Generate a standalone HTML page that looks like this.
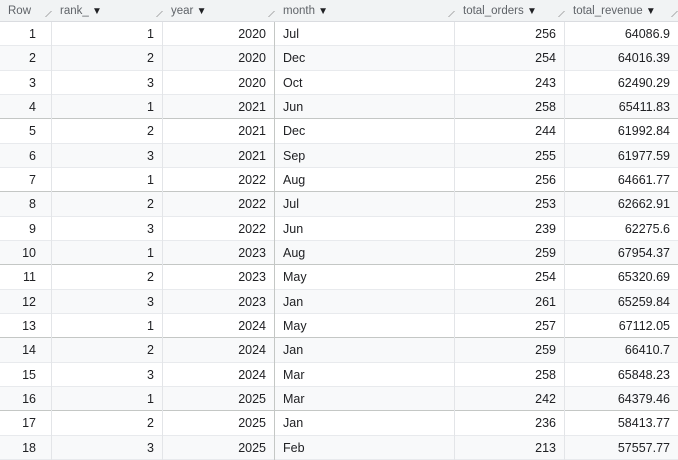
<!DOCTYPE html>
<html><head><meta charset="utf-8"><style>
body{margin:0;width:678px;height:460px;overflow:hidden;background:#fff;font-family:"Liberation Sans",sans-serif;color:#202124}
#grid{position:absolute;left:0;top:0;width:678px;height:460px}
.h{position:absolute;top:0;height:22px;background:#f1f3f4;border-bottom:1px solid #dadce0;font-size:11.5px;color:#5f6368;line-height:22px;box-sizing:border-box}
.h span{position:absolute;left:8px}
.h .rz{position:absolute;right:3px;bottom:4px;width:6px;height:6px;border-right:1px solid #999;transform:skewX(-45deg);}
.c{position:absolute;font-size:12.5px;box-sizing:border-box;padding:0 8px;white-space:nowrap}
.r{text-align:right}
.row{position:absolute;left:0;width:678px;box-sizing:border-box}
</style></head><body>
<div id="grid"></div>
<script>
const rowNums=[1,2,3,4,5,6,7,8,9,10,11,12,13,14,15,16,17,18];
const ranks=[1,2,3,1,2,3,1,2,3,1,2,3,1,2,3,1,2,3];
const years=[2020,2020,2020,2021,2021,2021,2022,2022,2022,2023,2023,2023,2024,2024,2024,2025,2025,2025];
const months=["Jul","Dec","Oct","Jun","Dec","Sep","Aug","Jul","Jun","Aug","May","Jan","May","Jan","Mar","Mar","Jan","Feb"];
const orders=[256,254,243,258,244,255,256,253,239,259,254,261,257,259,258,242,236,213];
const revenue=["64086.9","64016.39","62490.29","65411.83","61992.84","61977.59","64661.77","62662.91","62275.6","67954.37","65320.69","65259.84","67112.05","66410.7","65848.23","64379.46","58413.77","57557.77"];
const headers=["Row","rank_","year","month","total_orders","total_revenue"];
const cols=[0,52,163,275,455,565,678];
const g=document.getElementById('grid');
headers.forEach((t,i)=>{
 const h=document.createElement('div');h.className='h';
 
 
 h.style.left=cols[i]+'px';h.style.width=(cols[i+1]-cols[i])+'px';
 h.innerHTML='<span>'+t+(i>0?' <span style="position:static;font-size:10px;color:#202124">&#9660;</span>':'')+'</span><div class="rz"></div>';
 g.appendChild(h);
});
const top0=22,rh=24.33;
rowNums.forEach((n,i)=>{
 const y=top0+i*rh;
 const r=document.createElement('div');r.className='row';
 
 
 r.style.top=y+'px';r.style.height=rh+'px';
 r.style.background=(n%2==0)?'#f8f9fa':'#fff';
 r.style.borderBottom=(n%3==1&&n>1)?'1px solid #c4c7c5':'1px solid #e8eaed';
 g.appendChild(r);
 const vals=[n,ranks[i],years[i],months[i],orders[i],revenue[i]];
 const names=['row-number','rank-cell','year-cell','month-cell','orders-cell','revenue-cell'];
 vals.forEach((v,j)=>{
  const c=document.createElement('div');c.className='c'+(j==3?'':' r');
  
  
  c.style.left=cols[j]+'px';c.style.width=(cols[j+1]-cols[j])+'px';
  c.style.top=y+'px';c.style.height=rh+'px';c.style.lineHeight=rh+'px';
  if(j==0)c.style.paddingRight='15px';
  if(j<5)c.style.borderRight=(j==2?'1px solid #c4c7c5':'1px solid #e3e5e8');
  c.textContent=v;g.appendChild(c);
 });
});
</script>
</body></html>
